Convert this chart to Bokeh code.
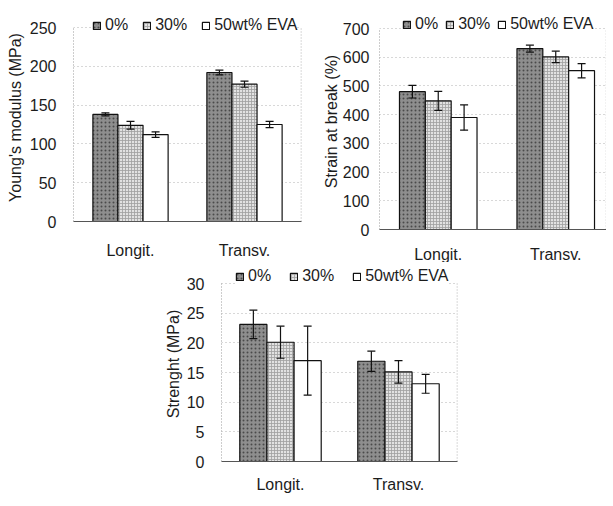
from bokeh.plotting import figure
from bokeh.models import (Range1d, FixedTicker, ColumnDataSource, Legend, LegendItem, Spacer)
from bokeh.layouts import column, row
from bokeh.embed import file_html
from bokeh.resources import INLINE

categories = ["Longit.", "Transv."]
series = ["0%", "30%", "50wt% EVA"]

young_0 = [138, 192]
young_30 = [124, 177]
young_50 = [112, 125]
young_err_0 = [2, 3]
young_err_30 = [5, 4]
young_err_50 = [3.5, 4]

strain_0 = [480, 630]
strain_30 = [448, 601]
strain_50 = [390, 553]
strain_err_0 = [22, 12]
strain_err_30 = [33, 20]
strain_err_50 = [44, 25]

strength_0 = [23.1, 16.9]
strength_30 = [20.1, 15.1]
strength_50 = [17.0, 13.1]
strength_err_0 = [2.4, 1.7]
strength_err_30 = [2.7, 1.9]
strength_err_50 = [5.8, 1.6]

young_ticks = [0, 50, 100, 150, 200, 250]
strain_ticks = [0, 100, 200, 300, 400, 500, 600, 700]
strength_ticks = [0, 5, 10, 15, 20, 25, 30]

FONT = "Liberation Sans"
TXT = "#1c1c1c"
DOT = "#9a9a9a"

styles = [
    dict(fill_color="#8e8e8e", hatch_pattern="dot", hatch_color="#4a4a4a", hatch_scale=4, hatch_weight=1),
    dict(fill_color="#e2e2e2", hatch_pattern="cross", hatch_color="#a0a0a0", hatch_scale=3, hatch_weight=0.8),
    dict(fill_color="white"),
]


def panel(vals, errs, ticks, ylabel, fw, plot_h, ext_px, bl, bt, bb, br, xend, bw,
          leg_x, leg_bottom, leg_spacing, label_standoff, axlab_standoff, cat_standoff):
    ymax = ticks[-1]
    ext = ext_px * ymax / plot_h
    p = figure(title=None, frame_width=fw, frame_height=plot_h + ext_px, output_backend="svg",
               toolbar_location=None,
               x_range=Range1d(0, xend), y_range=Range1d(ticks[0], ymax + ext),
               min_border_left=bl, min_border_top=bt, min_border_bottom=bb, min_border_right=br)
    p.background_fill_color = "white"
    p.border_fill_color = "white"
    p.outline_line_color = None

    offsets = [-bw, 0, bw]
    items = []
    sources = []
    for k, name in enumerate(series):
        xs = [i + 0.5 + offsets[k] for i in range(len(categories))]
        src = ColumnDataSource(dict(
            x=xs, top=vals[k],
            upper=[v + e for v, e in zip(vals[k], errs[k])],
            lower=[v - e for v, e in zip(vals[k], errs[k])]))
        r = p.vbar(x="x", top="top", width=bw, source=src, line_color="#111111",
                   line_width=1.2, **styles[k])
        items.append(LegendItem(label=name, renderers=[r]))
        sources.append(src)
    for src in sources:
        p.segment(x0="x", y0="lower", x1="x", y1="upper", source=src,
                  line_color="#111111", line_width=1.2)
        p.scatter(x="x", y="upper", marker="dash", size=8, source=src,
                  line_color="#111111", line_width=1.2)
        p.scatter(x="x", y="lower", marker="dash", size=8, source=src,
                  line_color="#111111", line_width=1.2)
    # right border of the plot area (dotted), from the axis range
    p.segment(x0=[xend], y0=[ticks[0]], x1=[xend], y1=[ymax], line_color=DOT,
              line_dash="1 2", line_width=1.5)

    leg = Legend(items=items, orientation="horizontal", location=(leg_x, leg_bottom),
                 padding=0, margin=0, spacing=leg_spacing, glyph_width=9, glyph_height=9,
                 label_standoff=4, label_text_font=FONT, label_text_font_size="16px",
                 label_text_color=TXT, border_line_alpha=0, background_fill_color="white",
                 background_fill_alpha=1, label_height=16)
    p.add_layout(leg, "center")

    p.yaxis.ticker = FixedTicker(ticks=ticks)
    p.yaxis.bounds = (ticks[0], ymax)
    p.yaxis.axis_label = ylabel
    p.yaxis.axis_label_text_font = FONT
    p.yaxis.axis_label_text_font_size = "16px"
    p.yaxis.axis_label_text_font_style = "normal"
    p.yaxis.axis_label_text_color = TXT
    p.yaxis.axis_label_standoff = axlab_standoff
    p.yaxis.major_label_text_font = FONT
    p.yaxis.major_label_text_font_size = "16px"
    p.yaxis.major_label_text_color = TXT
    p.yaxis.major_label_standoff = label_standoff
    p.yaxis.major_tick_line_color = None
    p.yaxis.minor_tick_line_color = None
    p.yaxis.axis_line_color = DOT
    p.yaxis.axis_line_dash = "1 2"

    p.xaxis.ticker = FixedTicker(ticks=[i + 0.5 for i in range(len(categories))])
    p.xaxis.major_label_overrides = {i + 0.5: c for i, c in enumerate(categories)}
    p.xaxis.major_label_text_font = FONT
    p.xaxis.major_label_text_font_size = "16px"
    p.xaxis.major_label_text_color = TXT
    p.xaxis.major_label_standoff = cat_standoff
    p.xaxis.major_tick_line_color = None
    p.xaxis.minor_tick_line_color = None
    p.xaxis.axis_line_color = "#555555"
    p.xaxis.axis_line_width = 1.2

    p.xgrid.grid_line_color = None
    p.ygrid.grid_line_color = "#b0b0b0"
    p.ygrid.grid_line_dash = "1 3"
    return p


p1 = panel([young_0, young_30, young_50], [young_err_0, young_err_30, young_err_50],
           young_ticks, "Young's modulus (MPa)", 228, 194, 14, 61, 13, 29, 16, 2.0, 0.22,
           19, 187, 14, 11, 3, 14)
p2 = panel([strain_0, strain_30, strain_50], [strain_err_0, strain_err_30, strain_err_50],
           strain_ticks, "Strain at break (%)", 227, 201, 15, 62, 10, 24, 0, 1.932, 0.22,
           23, 196, 7, 4, 0, 10)
p3 = panel([strength_0, strength_30, strength_50], [strength_err_0, strength_err_30, strength_err_50],
           strength_ticks, "Strenght (MPa)", 236, 178, 17, 51, 4, 30, 10, 2.0, 0.23,
           14, 176, 18, 11, 2, 8)

layout = column(row(Spacer(width=3, height=240), p1, p2),
                row(Spacer(width=161, height=230), p3))

open("out.html", "w").write(file_html(layout, INLINE))
